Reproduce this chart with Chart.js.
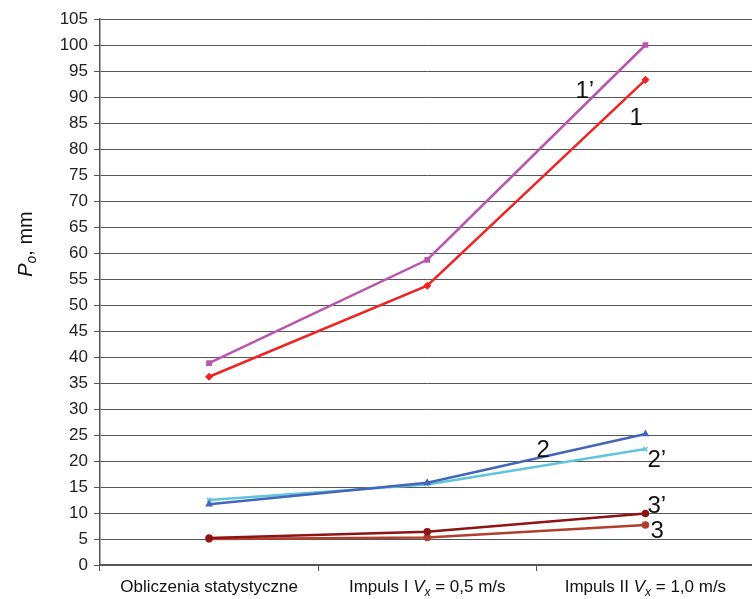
<!DOCTYPE html>
<html>
<head>
<meta charset="utf-8">
<script src="https://cdn.jsdelivr.net/npm/chart.js@4/dist/chart.umd.min.js"></script>
<style>
  html, body { margin: 0; padding: 0; background: #fff; overflow: hidden; }
  #wrap { width: 760px; height: 599px; }
</style>
</head>
<body>
<div id="wrap"><canvas id="chart"></canvas></div>
<script>
// categories ("V_x" = italic V with subscript x)
const categories = ['Obliczenia statystyczne', 'Impuls I V_x = 0,5 m/s', 'Impuls II V_x = 1,0 m/s'];

// series values
const s1p = [38.8, 58.7, 100.0];   // 1'
const s1 = [36.2, 53.7, 93.3];     // 1
const s2 = [11.7, 15.8, 25.2];     // 2
const s2p = [12.5, 15.5, 22.3];    // 2'
const s3p = [5.2, 6.4, 9.9];       // 3'
const s3 = [5.0, 5.3, 7.7];        // 3

const seriesNames = ["1\u2019", '1', '2', "2\u2019", "3\u2019", '3'];
const yTicks = { min: 0, max: 105, step: 5 };

const FONT = '"Liberation Sans", Arial, Helvetica, sans-serif';

function ds(label, data, color, style) {
    return {
        label, data,
        borderColor: color, backgroundColor: color,
        borderWidth: 2.5, pointStyle: style, pointRadius: 3,
        pointBorderWidth: 1.5, tension: 0
    };
}

// series labels: offset from each series' last point
const labelOffsets = [[-70, 53], [-16, 45], [-109, 23], [2, 18], [2, -1], [5, 13]];

const annotatePlugin = {
    id: 'annotate',
    afterDraw(chart) {
        const ctx = chart.ctx;
        const x = chart.scales.x;
        ctx.save();
        ctx.fillStyle = '#111';
        ctx.textBaseline = 'alphabetic';

        // series numbers
        ctx.font = '24px ' + FONT;
        ctx.textAlign = 'left';
        chart.data.datasets.forEach((d, i) => {
            const pt = chart.getDatasetMeta(i).data[d.data.length - 1];
            ctx.fillText(seriesNames[i], pt.x + labelOffsets[i][0], pt.y + labelOffsets[i][1]);
        });

        // category labels with italic V and subscript x
        categories.forEach((cat, i) => {
            const parts = cat.split(/(V_x)/).filter(p => p);
            const pieces = [];
            parts.forEach(p => {
                if (p === 'V_x') {
                    pieces.push({ t: 'V', f: 'italic 17px ' + FONT, dy: 0 });
                    pieces.push({ t: 'x', f: 'italic 12px ' + FONT, dy: 4 });
                } else {
                    pieces.push({ t: p, f: '17px ' + FONT, dy: 0 });
                }
            });
            let w = 0;
            pieces.forEach(p => { ctx.font = p.f; p.w = ctx.measureText(p.t).width; w += p.w; });
            let cx = x.getPixelForValue(i) - w / 2;
            pieces.forEach(p => {
                ctx.font = p.f;
                ctx.fillText(p.t, cx, 592 + p.dy);
                cx += p.w;
            });
        });

        // y axis title: P_o, mm
        ctx.translate(32, 244);
        ctx.rotate(-Math.PI / 2);
        const tp = [
            { t: 'P', f: 'italic 20px ' + FONT, dy: 0 },
            { t: 'o', f: 'italic 14px ' + FONT, dy: 4 },
            { t: ', mm', f: '20px ' + FONT, dy: 0 }
        ];
        let tw = 0;
        tp.forEach(p => { ctx.font = p.f; p.w = ctx.measureText(p.t).width; tw += p.w; });
        let tx = -tw / 2;
        tp.forEach(p => { ctx.font = p.f; ctx.fillText(p.t, tx, p.dy); tx += p.w; });
        ctx.restore();
    }
};

new Chart(document.getElementById('chart'), {
    type: 'line',
    data: {
        labels: categories,
        datasets: [
            ds(seriesNames[0], s1p, '#b955ae', 'rect'),
            ds(seriesNames[1], s1, '#ee2424', 'rectRot'),
            ds(seriesNames[2], s2, '#4566b8', 'triangle'),
            ds(seriesNames[3], s2p, '#5fc4dc', 'crossRot'),
            ds(seriesNames[4], s3p, '#8c1414', 'circle'),
            ds(seriesNames[5], s3, '#b23e2c', 'circle')
        ]
    },
    options: {
        responsive: true,
        maintainAspectRatio: false,
        animation: false,
        layout: { padding: { top: 19, right: 3, left: 0, bottom: 0 } },
        plugins: { legend: { display: false }, tooltip: { enabled: false } },
        scales: {
            x: {
                offset: true,
                grid: { offset: true, drawOnChartArea: false, tickLength: 6, color: '#555' },
                border: { color: '#555', width: 1.5 },
                ticks: { display: false },
                afterFit(scale) { scale.height = 34; }
            },
            y: {
                min: yTicks.min, max: yTicks.max,
                grid: { color: '#555', lineWidth: 1, tickLength: 6 },
                border: { color: '#555', width: 1.5 },
                ticks: {
                    stepSize: yTicks.step, padding: 6, color: '#222',
                    font: { family: FONT, size: 17 }
                },
                afterFit(scale) { scale.width = 100; }
            }
        }
    },
    plugins: [annotatePlugin]
});
</script>
</body>
</html>
